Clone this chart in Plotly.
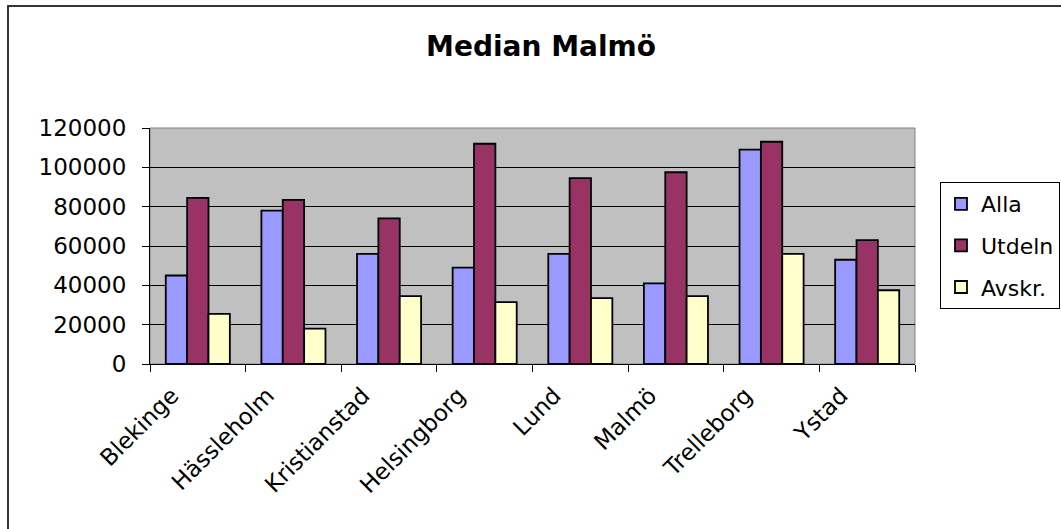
import plotly.graph_objects as go

categories = ["Blekinge", "Hässleholm", "Kristianstad", "Helsingborg", "Lund", "Malmö", "Trelleborg", "Ystad"]
alla = [45000, 78000, 56000, 49000, 56000, 41000, 109000, 53000]
utdeln = [84500, 83500, 74000, 112000, 94500, 97500, 113000, 63000]
avskr = [25500, 18000, 34500, 31500, 33500, 34500, 56000, 37500]
series_names = ["Alla", "Utdeln", "Avskr."]
series_colors = ["#9999FF", "#993366", "#FFFFCC"]
y_ticks = [0, 20000, 40000, 60000, 80000, 100000, 120000]

FONT = "DejaVu Sans, Arial, sans-serif"

fig = go.Figure()
for name, vals, col in zip(series_names, [alla, utdeln, avskr], series_colors):
    fig.add_trace(go.Bar(
        x=categories, y=vals, name=name, legendgroup=name,
        marker=dict(color=col, line=dict(color="black", width=1.8)),
    ))

W, H = 1061, 529
L, T = 150, 128
R = W - 915
B = H - 364
pw, ph = W - L - R, H - T - B


def px(xpix):
    return (xpix - L) / pw


def py(ypix):
    return (H - B - ypix) / ph


fig.update_layout(
    width=W, height=H,
    margin=dict(l=L, r=R, t=T, b=B, autoexpand=False),
    paper_bgcolor="white",
    plot_bgcolor="#C0C0C0",
    barmode="group", bargap=0.33, bargroupgap=0,
    title=dict(text="<b>Median Malmö</b>", x=541 / W, xanchor="center",
               y=1 - 46 / H, yanchor="middle",
               font=dict(family=FONT, size=28, color="black")),
    font=dict(family=FONT, color="black"),
    legend=dict(
        x=px(940), xanchor="left", y=py(182), yanchor="top",
        bordercolor="black", borderwidth=1, bgcolor="white",
        font=dict(family=FONT, size=22, color="black"),
        traceorder="grouped", tracegroupgap=10,
    ),
    xaxis=dict(
        tickangle=-45, tickfont=dict(family=FONT, size=23, color="black"),
        showline=True, linecolor="black", linewidth=1,
        ticks="outside", ticklen=7, tickcolor="black", tickson="boundaries",
        ticklabelshift=-26, ticklabelstandoff=8,
        showgrid=False,
    ),
    yaxis=dict(
        range=[0, 120000], tickvals=y_ticks, ticktext=[str(v) for v in y_ticks],
        tickfont=dict(family=FONT, size=23, color="black"),
        showline=True, linecolor="black", linewidth=1,
        ticks="outside", ticklen=7, tickcolor="black",
        ticklabelstandoff=11,
        showgrid=True, gridcolor="black", gridwidth=1,
        zeroline=False,
    ),
    shapes=[
        dict(type="rect", xref="paper", yref="paper", x0=0, x1=1, y0=0, y1=1,
             line=dict(color="#808080", width=1), layer="below"),
        dict(type="rect", xref="paper", yref="paper",
             x0=px(8), x1=px(W + 20), y0=py(H + 20), y1=py(6),
             line=dict(color="#333333", width=2), layer="below"),
    ],
)

fig.write_html("out.html", config={"displayModeBar": False},
               post_script="document.body.style.margin='0';")
